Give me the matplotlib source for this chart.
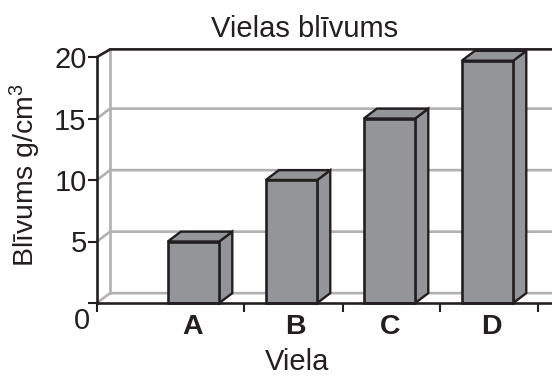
import matplotlib
matplotlib.use('Agg')
import matplotlib.pyplot as plt

plt.rcParams['font.family'] = ['Liberation Sans', 'DejaVu Sans']
plt.rcParams['mathtext.default'] = 'regular'

categories = ['A', 'B', 'C', 'D']
density = [5, 10, 15, 19.7]
grid_levels = [0, 5, 10, 15]
y_ticks = [0, 5, 10, 15, 20]
y_labels = ['', '5', '10', '15', '20']
x_ticks = [-0.985, 0.52, 1.53, 2.52, 3.52]

dark = '#231f20'
grey = '#b1b1b3'
fill = '#939598'

# depth of the fake 3d box, in data units
dx = 0.133
dy = 0.8
top_dy = 0.62
bar_w = 0.525
x_min, x_max = -0.985, 3.658

fig = plt.figure(figsize=(5.52, 3.76), dpi=100)
ax = fig.add_axes([97 / 552, 73 / 376, 455 / 552, 246 / 376])
ax.set_xlim(x_min, x_max)
ax.set_ylim(0, 20)
for s in ['top', 'right', 'bottom', 'left']:
    ax.spines[s].set_visible(False)

# back wall and gridlines
for g in grid_levels:
    ax.plot([x_min, x_min + dx, x_max], [g, g + dy, g + dy], color=grey, lw=1.9,
            clip_on=False, zorder=1, solid_joinstyle='miter')
ax.plot([x_min + dx, x_min + dx], [dy, 20 + top_dy], color=grey, lw=1.9, clip_on=False, zorder=1)
ax.plot([x_min, x_min + dx, x_max], [20, 20 + top_dy, 20 + top_dy], color=dark, lw=1.9,
        clip_on=False, zorder=2, solid_joinstyle='miter')

# bars with side and top faces
for i, v in enumerate(density):
    l = i - bar_w / 2
    r = i + bar_w / 2
    ax.fill([r, r + dx, r + dx, r], [0, dy, v + dy, v], facecolor=fill, edgecolor=dark,
            lw=1.7, zorder=3, clip_on=False, joinstyle='miter')
    ax.fill([l, l + dx, r + dx, r], [v, v + dy, v + dy, v], facecolor=fill, edgecolor=dark,
            lw=1.7, zorder=3, clip_on=False, joinstyle='miter')
ax.bar(range(len(density)), density, bar_w, color=fill, edgecolor=dark, lw=1.9, zorder=4,
       clip_on=False)

# front axis lines
ax.plot([x_min, x_min], [0, 20], color=dark, lw=1.9, clip_on=False, zorder=5)
ax.plot([x_min, x_max], [0, 0], color=dark, lw=1.9, clip_on=False, zorder=5)

ax.set_yticks(y_ticks)
ax.set_yticklabels(y_labels, fontsize=21, color=dark)
ax.set_xticks(x_ticks)
ax.set_xticklabels([])
ax.tick_params(axis='both', length=6.5, width=1.5, color=dark, pad=1)

# zero sits below the corner
ax.annotate('0', (x_min, 0), xytext=(-15, -18), textcoords='offset pixels', fontsize=21,
            color=dark, ha='center', va='center', annotation_clip=False)

label_shift = [-1, 4, 1, 4]
for i, c in enumerate(categories):
    ax.annotate(c, (i, 0), xytext=(label_shift[i], -24), textcoords='offset pixels', fontsize=20.5,
                fontweight='bold', color=dark, ha='center', va='center', annotation_clip=False)

fig.text(305 / 552, 1 - 29 / 376, 'Vielas blīvums', fontsize=21, color=dark, ha='center', va='center')
fig.text(297 / 552, 1 - 362 / 376, 'Viela', fontsize=21, color=dark, ha='center', va='center')
fig.text(25 / 552, 1 - 175 / 376, 'Blīvums g/cm$^3$', fontsize=20.5, color=dark, rotation=90,
         ha='center', va='center')

fig.savefig('out.png', dpi=100)
